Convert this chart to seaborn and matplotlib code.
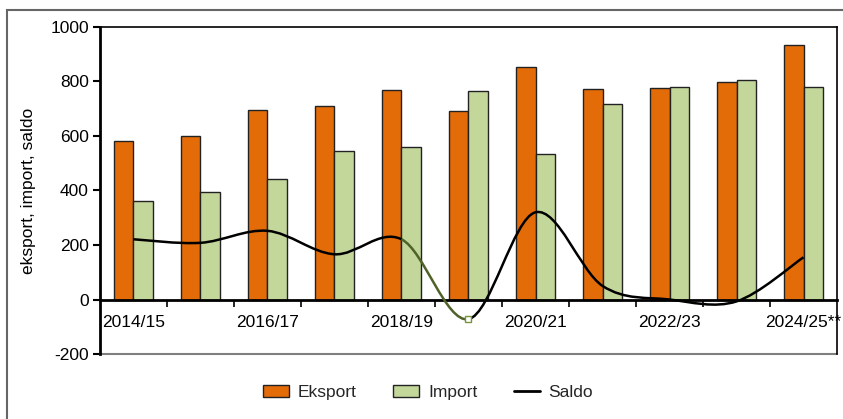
import numpy as np
import pandas as pd
import seaborn as sns
import matplotlib.pyplot as plt
from matplotlib.path import Path
from matplotlib.patches import PathPatch, Rectangle, Patch
from matplotlib.lines import Line2D

# dane
sezony = ["2014/15", "2015/16", "2016/17", "2017/18", "2018/19", "2019/20",
          "2020/21", "2021/22", "2022/23", "2023/24", "2024/25"]
eksport = [582, 601, 695, 709, 768, 693, 853, 771, 776, 799, 935]
importy = [361, 393, 442, 545, 558, 764, 533, 719, 779, 805, 780]
saldo = [221, 208, 252, 166, 221, -72, 320, 50, 0, -7, 155]
etykiety_x = ["2014/15", "", "2016/17", "", "2018/19", "", "2020/21", "",
              "2022/23", "", "2024/25**"]

kolor_eks = "#E36C09"
kolor_imp = "#C4D79B"

df = pd.DataFrame({
    "sezon": sezony * 2,
    "wartosc": eksport + importy,
    "seria": ["Eksport"] * len(sezony) + ["Import"] * len(sezony),
})

sns.set_theme(style="white")
plt.rcParams["font.family"] = ["Liberation Sans", "DejaVu Sans"]
plt.rcParams["axes.unicode_minus"] = False


def wygladz(xs, ys, start=0, stop=None):
    # krzywa Beziera w stylu Excela (wygladzona linia)
    pts = np.column_stack([xs, ys]).astype(float)
    n = len(pts)
    if stop is None:
        stop = n - 1
    verts = [pts[start]]
    codes = [Path.MOVETO]
    for i in range(start, stop):
        p0 = pts[max(i - 1, 0)]
        p1 = pts[i]
        p2 = pts[i + 1]
        p3 = pts[min(i + 2, n - 1)]
        verts += [p1 + (p2 - p0) / 6, p2 - (p3 - p1) / 6, p2]
        codes += [Path.CURVE4] * 3
    return Path(verts, codes)


fig = plt.figure(figsize=(8.43, 4.19), dpi=100)
ax = fig.add_axes([0.1186, 0.1551, 0.8743, 0.7805])

sns.barplot(data=df, x="sezon", y="wartosc", hue="seria",
            palette=[kolor_eks, kolor_imp], saturation=1, width=0.57,
            edgecolor="#222222", linewidth=1, legend=False, ax=ax)

x = np.arange(len(sezony))
ax.add_patch(PathPatch(wygladz(x, saldo, 0, 4), fc="none", ec="black", lw=1.8, zorder=5))
ax.add_patch(PathPatch(wygladz(x, saldo, 4, 5), fc="none", ec="#4F6228", lw=1.8, zorder=5))
ax.add_patch(PathPatch(wygladz(x, saldo, 5), fc="none", ec="black", lw=1.8, zorder=5))
ax.plot([x[5]], [saldo[5]], marker="s", ms=5, mfc="white", mec="#77933C",
        mew=1, ls="none", zorder=6)

ax.set_xlim(-0.5, 10.5)
ax.set_ylim(-200, 1000)
ax.set_yticks(range(-200, 1001, 200))
ax.set_xticks(x, etykiety_x)
ax.set_xticks(np.arange(0.5, 10.5, 1), minor=True)
ax.tick_params(axis="x", which="major", length=0, pad=11, labelsize=12.5, colors="black")
ax.tick_params(axis="x", which="minor", length=5, width=1.2, direction="out",
               bottom=True, color="black")
ax.tick_params(axis="y", length=5, width=1.5, direction="out", left=True,
               labelsize=12.5, pad=3, colors="black")
ax.set_xlabel("")
ax.set_ylabel("eksport, import, saldo", fontsize=12.5, color="black")
ax.yaxis.set_label_coords(-0.087, 0.5)

for s in ["top", "right"]:
    ax.spines[s].set_color("black")
    ax.spines[s].set_linewidth(1.2)
ax.spines["left"].set_color("black")
ax.spines["left"].set_linewidth(2)
ax.spines["bottom"].set_position(("data", 0))
ax.spines["bottom"].set_color("black")
ax.spines["bottom"].set_linewidth(2)
ax.axhline(-200, color="#7f7f7f", lw=1.5, clip_on=False)

uchwyty = [Patch(fc=kolor_eks, ec="#222222", lw=1, label="Eksport"),
           Patch(fc=kolor_imp, ec="#222222", lw=1, label="Import"),
           Line2D([], [], color="black", lw=2, label="Saldo")]
fig.legend(handles=uchwyty, loc="center", bbox_to_anchor=(0.508, 0.064), ncol=3,
           frameon=False, fontsize=12.5, columnspacing=2.1, handlelength=1.5,
           handleheight=0.7, handletextpad=0.5)

# ramka wokol wykresu
fig.add_artist(Rectangle((7 / 843, -0.02), 1.0, (419 - 10) / 419 + 0.02,
                         transform=fig.transFigure, fill=False,
                         ec="#666666", lw=1.5))

fig.savefig("out.png", dpi=100)
